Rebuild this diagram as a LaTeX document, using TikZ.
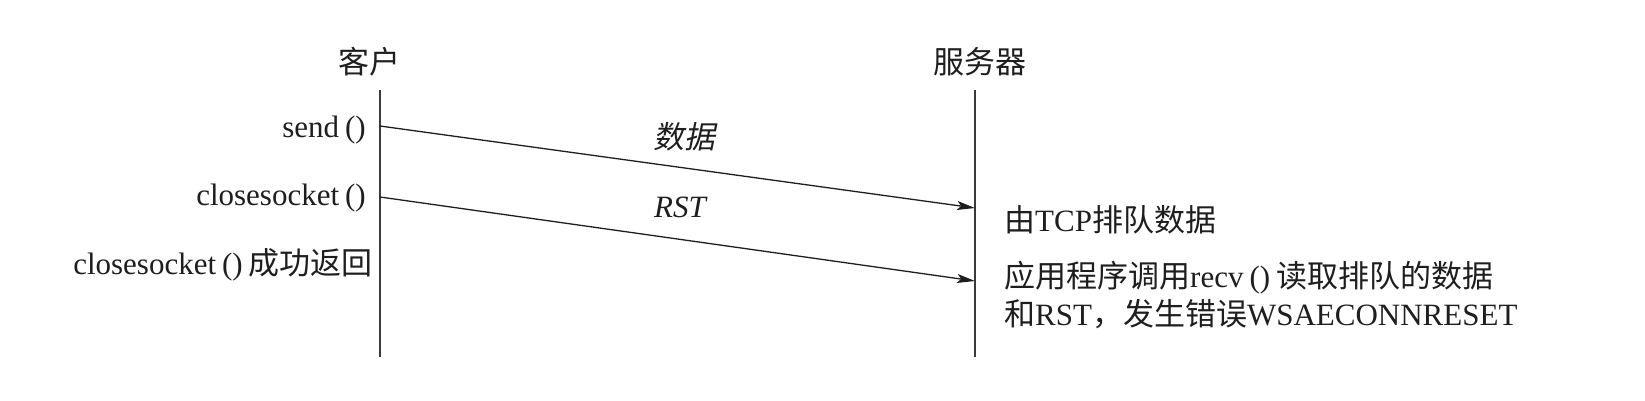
\documentclass[tikz,border=0pt]{standalone}
\usepackage{fontspec}
\setmainfont{Liberation Serif}
\newfontfamily\cjk{Noto Sans CJK SC}
\newfontfamily\cjkit{Noto Sans CJK SC}[FakeSlant=0.2]
\usetikzlibrary{arrows.meta}
\definecolor{ink}{HTML}{1E1E1E}
\definecolor{lineclr}{HTML}{3A3A3A}
\newcommand{\gp}{\kern6pt}
\begin{document}
\begin{tikzpicture}[x=1pt,y=-1pt,
  lbl/.style={inner sep=0pt,text=ink,font=\fontsize{31}{38}\selectfont},
  life/.style={draw=lineclr,line width=1.6pt},
  msg/.style={draw=ink,line width=1.3pt,-{Stealth[length=18pt,width=9pt,inset=4pt]}}]
\useasboundingbox (0,0) rectangle (1645,400);
% lifelines
\coordinate (ctop) at (380,90);
\coordinate (cbot) at (380,357);
\coordinate (stop) at (975,90);
\coordinate (sbot) at (975,357);
\draw[life] (ctop) -- (cbot);
\draw[life] (stop) -- (sbot);
% headers
\node[lbl] (client) at (369,62) {\cjk 客户};
\node[lbl] (server) at (980,62) {\cjk 服务器};
% left labels
\node[lbl,anchor=east] (send) at (366,130) {send\gp()};
\node[lbl,anchor=east] (close) at (366,198) {closesocket\gp()};
\node[lbl,anchor=east] (ret) at (373,265) {closesocket\gp()\gp{\cjk 成功返回}};
% message endpoints
\coordinate (m1s) at (380,126);
\coordinate (m1e) at (975,208);
\coordinate (m2s) at (380,197);
\coordinate (m2e) at (975,281);
\draw[msg] (m1s) -- (m1e);
\draw[msg] (m2s) -- (m2e);
% message labels
\node[lbl] (data) at (684,137) {\cjkit 数据};
\node[lbl] (rst) at (680,207) {\itshape RST};
% right labels
\node[lbl,anchor=west] (queue) at (1004,220) {{\cjk 由}TCP{\cjk 排队数据}};
\node[lbl,anchor=west,align=left] (app) at (1004,295) {{\cjk 应用程序调用}recv\gp()\gp{\cjk 读取排队的数据}\\{\cjk 和}RST{\cjk ，发生错误}WSAECONNRESET};
\end{tikzpicture}
\end{document}
